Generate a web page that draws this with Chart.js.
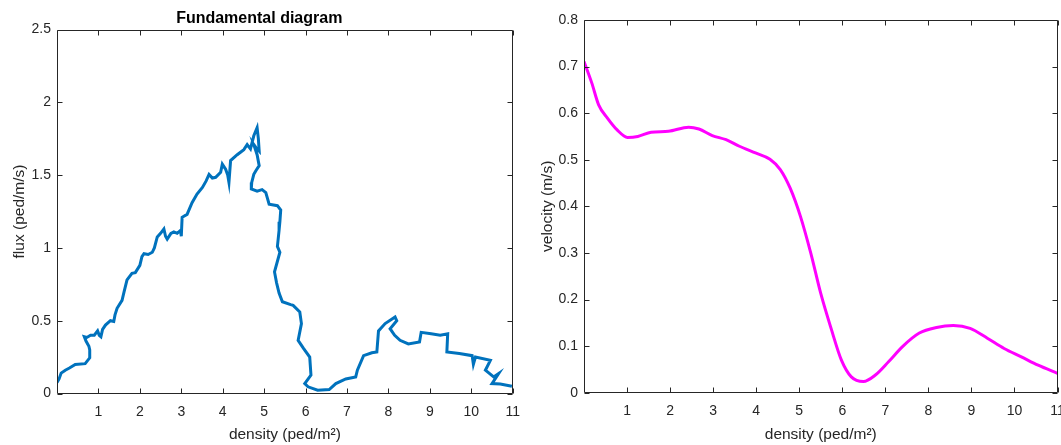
<!DOCTYPE html>
<html>
<head>
<meta charset="utf-8">
<title>Fundamental diagram</title>
<script src="https://cdn.jsdelivr.net/npm/chart.js@4.4.1/dist/chart.umd.min.js"></script>
<style>
  html, body { margin: 0; padding: 0; background: #fff; overflow: hidden; }
  #left { position: absolute; left: 0; top: 0; width: 530px; height: 445px; }
  #right { position: absolute; left: 530px; top: 0; width: 545px; height: 445px; }
</style>
</head>
<body>
<div id="left"><canvas id="fluxChart" width="530" height="445"></canvas></div>
<div id="right"><canvas id="velocityChart" width="545" height="445"></canvas></div>
<script>
// --- data ---
const fluxDensity = [
  0.00, 0.05, 0.10, 0.20, 0.30, 0.44, 0.68, 0.79, 0.79, 0.77, 0.70, 0.66, 0.72, 0.81, 0.90, 0.98,
  1.02, 1.06, 1.10, 1.17, 1.29, 1.37, 1.40, 1.45, 1.57, 1.62, 1.69, 1.81, 1.89, 2.00, 2.05, 2.10,
  2.20, 2.30, 2.35, 2.42, 2.50, 2.58, 2.62, 2.66, 2.75, 2.82, 2.90, 2.98, 3.00, 3.02, 3.14, 3.26,
  3.38, 3.51, 3.60, 3.67, 3.75, 3.83, 3.95, 3.99, 4.07, 4.12, 4.15, 4.19, 4.35, 4.51, 4.59, 4.67,
  4.75, 4.83, 4.86, 4.88, 4.80, 4.75, 4.83, 4.88, 4.80, 4.75, 4.70, 4.69, 4.83, 4.95, 5.04, 5.12,
  5.32, 5.40, 5.38, 5.36, 5.32, 5.38, 5.25, 5.30, 5.36, 5.44, 5.64, 5.70, 5.86, 5.90, 5.82, 5.95,
  6.10, 6.13, 5.98, 6.06, 6.29, 6.57, 6.73, 6.97, 7.21, 7.25, 7.40, 7.60, 7.72, 7.76, 7.92, 8.16,
  8.20, 8.04, 8.15, 8.28, 8.48, 8.75, 8.79, 9.03, 9.25, 9.43, 9.41, 9.71, 10.02, 10.05, 10.10, 10.46,
  10.34, 10.54, 10.66, 10.50, 10.70, 10.98
];
const fluxValues = [
  0.075, 0.10, 0.14, 0.16, 0.175, 0.20, 0.205, 0.245, 0.30, 0.325, 0.36, 0.39, 0.385, 0.40, 0.40, 0.43,
  0.40, 0.39, 0.44, 0.47, 0.50, 0.495, 0.54, 0.585, 0.64, 0.70, 0.78, 0.825, 0.83, 0.88, 0.94, 0.96,
  0.955, 0.97, 1.00, 1.075, 1.10, 1.13, 1.08, 1.06, 1.10, 1.11, 1.10, 1.12, 1.08, 1.21, 1.23, 1.31,
  1.37, 1.415, 1.46, 1.505, 1.48, 1.485, 1.52, 1.575, 1.54, 1.50, 1.45, 1.60, 1.64, 1.675, 1.71, 1.68,
  1.77, 1.825, 1.75, 1.665, 1.69, 1.71, 1.64, 1.565, 1.53, 1.505, 1.45, 1.405, 1.39, 1.40, 1.38, 1.30,
  1.29, 1.26, 1.18, 1.12, 1.01, 0.97, 0.835, 0.76, 0.69, 0.63, 0.61, 0.605, 0.56, 0.48, 0.365, 0.31,
  0.25, 0.126, 0.068, 0.046, 0.023, 0.027, 0.068, 0.10, 0.114, 0.16, 0.26, 0.28, 0.285, 0.43, 0.48, 0.525,
  0.50, 0.445, 0.40, 0.365, 0.34, 0.354, 0.42, 0.41, 0.40, 0.41, 0.285, 0.274, 0.26, 0.20, 0.25, 0.228,
  0.16, 0.114, 0.137, 0.068, 0.065, 0.05
];

const velocityDensity = [
  0, 0.18, 0.34, 0.54, 0.77, 1.01, 1.25, 1.56, 1.96, 2.43, 2.67, 2.98, 3.30, 3.61, 4.00, 4.32,
  4.56, 4.79, 5.03, 5.27, 5.50, 5.74, 5.98, 6.21, 6.49, 6.77, 7.08, 7.40, 7.79, 8.19, 8.58, 8.97,
  9.37, 9.76, 10.16, 10.55, 11
];
const velocityValues = [
  0.711, 0.665, 0.618, 0.59, 0.564, 0.548, 0.55, 0.559, 0.561, 0.57, 0.566, 0.552, 0.543, 0.529, 0.514, 0.501,
  0.479, 0.439, 0.378, 0.299, 0.213, 0.138, 0.070, 0.034, 0.024, 0.038, 0.067, 0.099, 0.128, 0.140, 0.144, 0.138,
  0.117, 0.095, 0.077, 0.059, 0.0415
];

const densityTicks = [1, 2, 3, 4, 5, 6, 7, 8, 9, 10, 11];
const fluxTicks = [0, 0.5, 1, 1.5, 2, 2.5];
const velocityTicks = [0, 0.1, 0.2, 0.3, 0.4, 0.5, 0.6, 0.7, 0.8];

const INK = '#262626';
const FONT = '"Liberation Sans", Arial, Helvetica, sans-serif';

// MATLAB style box with inward ticks on all four sides
const matlabBox = {
  id: 'matlabBox',
  afterDraw(chart) {
    const { ctx, chartArea: a, scales } = chart;
    const L = Math.round(a.left) + 0.5, R = Math.round(a.right) - 0.5;
    const T = Math.round(a.top) + 0.5, B = Math.round(a.bottom) - 0.5;
    const len = 5;
    ctx.save();
    ctx.strokeStyle = INK;
    ctx.lineWidth = 1;
    ctx.beginPath();
    ctx.rect(L, T, R - L, B - T);
    scales.x.ticks.forEach(t => {
      const px = Math.round(scales.x.getPixelForValue(t.value)) + 0.5;
      ctx.moveTo(px, B); ctx.lineTo(px, B - len);
      ctx.moveTo(px, T); ctx.lineTo(px, T + len);
    });
    scales.y.ticks.forEach(t => {
      const py = Math.round(scales.y.getPixelForValue(t.value)) + 0.5;
      ctx.moveTo(L, py); ctx.lineTo(L + len, py);
      ctx.moveTo(R, py); ctx.lineTo(R - len, py);
    });
    ctx.stroke();
    ctx.restore();
  }
};

function makeScales(opts) {
  return {
    x: {
      type: 'linear',
      min: 0,
      max: 11,
      afterBuildTicks: s => { s.ticks = densityTicks.map(v => ({ value: v })); },
      afterFit: s => { s.height = opts.xHeight; },
      grid: { display: false, drawTicks: false },
      border: { display: false },
      ticks: { color: INK, padding: 10, maxRotation: 0, font: { family: FONT, size: 14 }, callback: v => String(v) },
      title: {
        display: true,
        text: 'density (ped/m²)',
        color: INK,
        padding: { top: 0, bottom: 1 },
        font: { family: FONT, size: 15.5 }
      }
    },
    y: {
      type: 'linear',
      min: 0,
      max: opts.yMax,
      afterBuildTicks: s => { s.ticks = opts.yTicks.map(v => ({ value: v })); },
      afterFit: s => { s.width = opts.yWidth; },
      grid: { display: false, drawTicks: false },
      border: { display: false },
      ticks: { color: INK, padding: 6, font: { family: FONT, size: 14 }, callback: v => String(v) },
      title: {
        display: true,
        text: opts.yTitle,
        color: INK,
        padding: { top: opts.yTitlePad, bottom: 0 },
        font: { family: FONT, size: 15.5 }
      }
    }
  };
}

new Chart(document.getElementById('fluxChart'), {
  type: 'scatter',
  data: {
    datasets: [{
      data: fluxDensity.map((d, i) => ({ x: d, y: fluxValues[i] })),
      showLine: true,
      borderColor: '#0072BD',
      borderWidth: 3,
      pointRadius: 0,
      tension: 0
    }]
  },
  options: {
    responsive: false,
    animation: false,
    layout: { padding: { left: 0, right: 11.5, top: 0, bottom: 0 } },
    plugins: {
      legend: { display: false },
      tooltip: { enabled: false },
      title: {
        display: true,
        text: 'Fundamental diagram',
        color: '#000',
        padding: { top: 9, bottom: 1.3 },
        font: { family: FONT, size: 16, weight: 'bold', lineHeight: 1.2 }
      }
    },
    scales: makeScales({ xHeight: 51.5, yWidth: 57, yMax: 2.5, yTicks: fluxTicks, yTitle: 'flux (ped/m/s)', yTitlePad: 10.5 })
  },
  plugins: [matlabBox]
});

new Chart(document.getElementById('velocityChart'), {
  type: 'scatter',
  data: {
    datasets: [{
      data: velocityDensity.map((d, i) => ({ x: d, y: velocityValues[i] })),
      showLine: true,
      borderColor: '#FF00FF',
      borderWidth: 3,
      pointRadius: 0,
      cubicInterpolationMode: 'monotone'
    }]
  },
  options: {
    responsive: false,
    animation: false,
    layout: { padding: { left: 0, right: 17.5, top: 20, bottom: 0 } },
    plugins: {
      legend: { display: false },
      tooltip: { enabled: false }
    },
    scales: makeScales({ xHeight: 52.3, yWidth: 54, yMax: 0.8, yTicks: velocityTicks, yTitle: 'velocity (m/s)', yTitlePad: 8 })
  },
  plugins: [matlabBox]
});
</script>
</body>
</html>
